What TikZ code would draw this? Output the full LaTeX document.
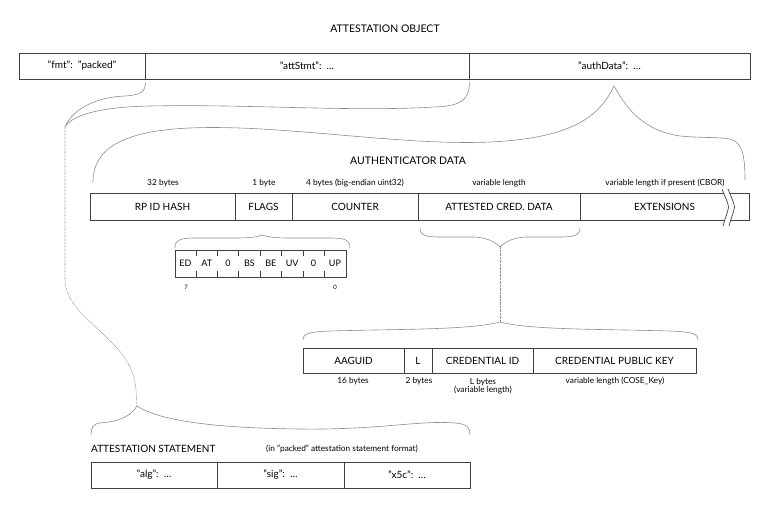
\documentclass[tikz,border=0pt]{standalone}
\usepackage{fontspec}
\setmainfont{Lato}
\begin{document}
\begin{tikzpicture}[x=1pt,y=-1pt,
  cell/.style={draw=black!75, line width=0.8pt, inner sep=0pt, font=\fontsize{10}{12}\selectfont},
  lbl/.style={inner sep=0pt, font=\fontsize{8.3}{10}\selectfont},
  ttl/.style={inner sep=0pt, font=\fontsize{10.5}{12}\selectfont},
  brace/.style={draw=black!45, line width=0.6pt},
  dots/.style={draw=black!45, line width=0.6pt, dash pattern=on 0.7pt off 0.7pt},
  tick/.style={draw=black!75, line width=0.6pt}]
\useasboundingbox (0,0) rectangle (769,530);

% ---------- attestation object ----------
\node[ttl] (title) at (385,29) {ATTESTATION OBJECT};
\node[cell, minimum width=126, minimum height=26] (fmt) at (82,66) {"fmt":\ \ "packed"};
\node[cell, minimum width=324, minimum height=26] (attstmt) at (307,66) {"attStmt":\ \ \ldots};
\node[cell, minimum width=281, minimum height=26] (authdata) at (609.5,66) {"authData":\ \ \ldots};

% brace over attStmt, tip on the left
\coordinate (t1) at (65,127);
\draw[brace] (fmt.south east) ++(0,3) .. controls +(0,10) and (140,95) .. (125,96)
  .. controls (95,97) and (72,110) .. (t1);
\draw[brace] (attstmt.south east) ++(0,3) .. controls +(0,18) and (460,106) .. (435,107)
  .. controls (350,112) and (250,104) .. (150,106)
  .. controls (100,107) and (72,115) .. (t1);

% brace under authData
\coordinate (t3) at (614,86);
\draw[brace] (t3) .. controls (600,115) and (575,138) .. (490,142)
  .. controls (400,146) and (280,124) .. (190,128)
  .. controls (120,131) and (93,150) .. (93,182);
\draw[brace] (t3) .. controls (625,105) and (640,130) .. (680,136)
  .. controls (700,138) and (720,137) .. (730,139)
  .. controls (742,142) and (745,155) .. (745,180);

% ---------- authenticator data ----------
\node[ttl] (adtitle) at (408,161) {AUTHENTICATOR DATA};
\node[lbl] (l32) at (163,183) {32 bytes};
\node[lbl] (l1) at (264,183) {1 byte};
\node[lbl] (l4) at (355,183) {4 bytes (big-endian uint32)};
\node[lbl] (lvar) at (499,183) {variable length};
\node[lbl] (lext) at (665,183) {variable length if present (CBOR)};

\node[cell, minimum width=145, minimum height=27] (rpid) at (162.5,206.5) {RP ID HASH};
\node[cell, minimum width=57, minimum height=27] (flags) at (263.5,206.5) {FLAGS};
\node[cell, minimum width=126, minimum height=27] (counter) at (355,206.5) {COUNTER};
\node[cell, minimum width=162, minimum height=27] (acd) at (499,206.5) {ATTESTED CRED. DATA};
\node[cell, minimum width=169, minimum height=27] (ext) at (664.5,206.5) {EXTENSIONS};
% break marks
\fill[white] (723.5,192) -- (729.5,192) -- (734.5,207) -- (730,221) -- (724,221) -- (728.5,207) -- cycle;
\draw[tick, line width=0.7pt] (722,189) .. controls (725,197) and (728,202) .. (728.5,207) .. controls (728,212) and (725,218) .. (723,226);
\draw[tick, line width=0.7pt] (728,189) .. controls (731,197) and (734,202) .. (734.5,207) .. controls (734,212) and (731,218) .. (729,226);

% flags brace
\coordinate (t4) at (262,235);
\draw[brace] (175,248) .. controls (175,240) and (180,238) .. (195,238) -- (235,238)
  .. controls (250,238) and (258,237) .. (t4);
\draw[brace] (t4) .. controls (268,237) and (275,238) .. (290,238) -- (330,238)
  .. controls (345,238) and (350,240) .. (350,248);

% flags bits
\node[draw=black!75, line width=0.7pt, minimum width=171, minimum height=27, inner sep=0pt] (bits) at (260.5,263.5) {};
\foreach \i in {1,...,7} {
  \draw[tick] ([xshift=\i*21.375]bits.north west) -- ++(0,6);
  \draw[tick] ([xshift=\i*21.375]bits.south west) -- ++(0,-6);
}
\foreach \t [count=\i from 0] in {ED,AT,0,BS,BE,UV,0,UP} {
  \node[inner sep=0pt, font=\fontsize{9}{10}\selectfont] (bit\i) at ([xshift=\i*21.375+10.7]bits.west) {\t};
}
\node[inner sep=0pt, font=\fontsize{6}{7}\selectfont] (b7) at (186,287) {7};
\node[inner sep=0pt, font=\fontsize{6}{7}\selectfont] (b0) at (335,287) {0};

% attested cred data brace
\coordinate (t5) at (500,247);
\draw[brace] (420,228) .. controls (420,235) and (425,237) .. (440,237) -- (475,237)
  .. controls (488,238) and (495,242) .. (t5);
\draw[brace] (t5) .. controls (505,242) and (512,238) .. (525,237) -- (560,237)
  .. controls (575,237) and (580,235) .. (580,228);

\coordinate (t6) at (500,322);
\draw[dots] (t5) -- (t6);

% credential brace
\draw[brace] (303,340) .. controls (303,333) and (310,332) .. (330,331)
  .. controls (400,329) and (470,330) .. (t6);
\draw[brace] (t6) .. controls (530,330) and (600,329) .. (670,331)
  .. controls (690,332) and (698,333) .. (698,340);

% ---------- attested credential data ----------
\node[cell, minimum width=101, minimum height=25] (aaguid) at (353.5,360.5) {AAGUID};
\node[cell, minimum width=28, minimum height=25] (lcell) at (418,360.5) {L};
\node[cell, minimum width=101, minimum height=25] (credid) at (482.5,360.5) {CREDENTIAL ID};
\node[cell, minimum width=163, minimum height=25] (cpk) at (614.5,360.5) {CREDENTIAL PUBLIC KEY};
\node[lbl] (l16) at (353,381) {16 bytes};
\node[lbl] (l2) at (419,381) {2 bytes};
\node[lbl, align=center] (lL) at (483,386) {L bytes\\[-1.5pt](variable length)};
\node[lbl] (lcose) at (615,381) {variable length (COSE\_Key)};

% ---------- dotted link to attestation statement ----------
\coordinate (t2) at (137,406);
\draw[dots] (t1) -- (65,280) .. controls (67,322) and (133,338) .. (136,390) -- (t2);

% attestation statement brace
\draw[brace] (t2) .. controls (130,418) and (115,422) .. (100,423)
  .. controls (93,424) and (91,428) .. (91,435);
\draw[brace] (t2) .. controls (155,418) and (200,428) .. (300,429)
  .. controls (380,430) and (420,420) .. (455,423)
  .. controls (468,424) and (470,428) .. (470,435);

% ---------- attestation statement ----------
\node[ttl, anchor=west, font=\fontsize{10}{12}\selectfont] (astitle) at (91,449) {ATTESTATION STATEMENT};
\node[lbl] (asfmt) at (342,449) {(in "packed" attestation statement format)};
\node[cell, minimum width=126, minimum height=26] (alg) at (154,475) {"alg":\ \ \ldots};
\node[cell, minimum width=127, minimum height=26] (sig) at (280.5,475) {"sig":\ \ \ldots};
\node[cell, minimum width=126, minimum height=26] (x5c) at (407,475) {"x5c":\ \ \ldots};
\end{tikzpicture}
\end{document}
